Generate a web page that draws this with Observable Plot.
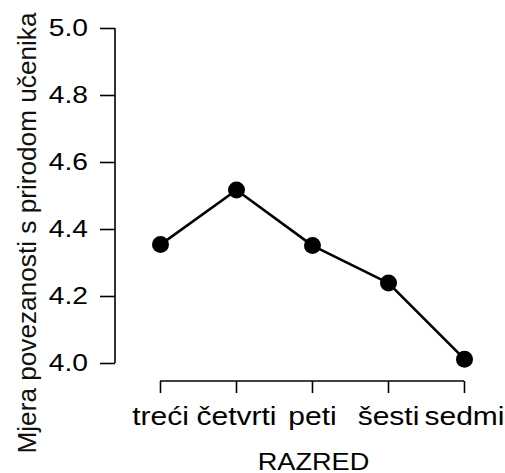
<!DOCTYPE html>
<html><head><meta charset="utf-8">
<script src="https://cdn.jsdelivr.net/npm/d3@7"></script>
<script src="https://cdn.jsdelivr.net/npm/@observablehq/plot@0.6"></script>
<style>body{margin:0;background:#fff}</style>
</head><body><div id="chart"></div>
<script>
const grades = ["treći", "četvrti", "peti", "šesti", "sedmi"];
const values = [4.355, 4.518, 4.352, 4.240, 4.013];
const yTicks = [4.0, 4.2, 4.4, 4.6, 4.8, 5.0];
const xLabel = "RAZRED";
const yLabel = "Mjera povezanosti s prirodom učenika";
const data = grades.map((g, i) => ({grade: g, value: values[i]}));

const W = 505, H = 473, ML = 115, MR = 9, MT = 28, MB = 92;
const Y_TICK = 15, Y_PAD = 12;

function axisLines(index, scales, vals, dims) {
  const ns = "http://www.w3.org/2000/svg";
  const g = document.createElementNS(ns, "g");
  g.setAttribute("stroke", "black");
  g.setAttribute("stroke-width", "1.6");
  g.setAttribute("fill", "none");
  const x0 = scales.x(grades[0]), x1 = scales.x(grades[grades.length - 1]);
  const yb = dims.height - dims.marginBottom;
  const l1 = document.createElementNS(ns, "line");
  l1.setAttribute("x1", x0); l1.setAttribute("x2", x1);
  l1.setAttribute("y1", yb); l1.setAttribute("y2", yb);
  const xl = dims.marginLeft;
  const l2 = document.createElementNS(ns, "line");
  l2.setAttribute("x1", xl); l2.setAttribute("x2", xl);
  l2.setAttribute("y1", scales.y(yTicks[0])); l2.setAttribute("y2", scales.y(yTicks[yTicks.length - 1]));
  g.append(l1, l2);
  return g;
}

const frameCenter = (ML + (W - MR)) / 2;

const chart = Plot.plot({
  width: W, height: H,
  marginLeft: ML, marginRight: MR, marginTop: MT, marginBottom: MB,
  style: {fontSize: "25px", fontFamily: "'Liberation Sans', Arial, sans-serif", color: "black", background: "white", overflow: "visible"},
  x: {type: "point", domain: grades, range: [160, 464], padding: 0},
  y: {domain: [4, 5], range: [363, 28]},
  marks: [
    Plot.axisY({ticks: yTicks, tickSize: Y_TICK, tickPadding: Y_PAD, tickFormat: d3.format(".1f"), label: null, strokeWidth: 1.6, fontSize: 23.5, fill: "black"}),
    Plot.axisX({tickSize: 12, tickPadding: 14, label: null, strokeWidth: 1.6, fontSize: 25, fill: "black"}),
    axisLines,
    Plot.line(data, {x: "grade", y: "value", stroke: "black", strokeWidth: 2.6}),
    Plot.dot(data, {x: "grade", y: "value", r: 8.5, fill: "black", stroke: "none"}),
    Plot.text([xLabel], {frameAnchor: "bottom", lineAnchor: "bottom", dx: 313 - frameCenter, dy: 88, fontSize: 24.7, fill: "black"}),
    Plot.text([yLabel], {frameAnchor: "left", textAnchor: "middle", rotate: -90, lineAnchor: "bottom", dx: -80, dy: 232.5 - (MT + (H - MB)) / 2, fontSize: 26.2, fill: "#111"})
  ]
});
document.getElementById("chart").append(chart);

// the reference's horizontal texts are drawn wider than the font's natural width:
// widen them while keeping their anchor point (end / middle) in place
function widen(t, f) {
  const bb = t.getBBox();
  const anchor = t.getAttribute("text-anchor") || getComputedStyle(t).textAnchor || "start";
  const w = bb.width * f;
  let left = bb.x;
  if (anchor === "end") left = bb.x + bb.width - w;
  else if (anchor === "middle") left = bb.x + bb.width / 2 - w / 2;
  t.setAttribute("text-anchor", "start");
  t.style.textAnchor = "start";
  t.setAttribute("x", left.toFixed(2));
  t.setAttribute("textLength", w.toFixed(2));
  t.setAttribute("lengthAdjust", "spacingAndGlyphs");
}
chart.querySelectorAll('g[aria-label="y-axis tick label"] text').forEach(t => widen(t, 1.2));
chart.querySelectorAll('g[aria-label="x-axis tick label"] text').forEach(t => widen(t, 1.2));
chart.querySelectorAll('text').forEach(t => { if (t.textContent === xLabel) widen(t, 1.1); });

// make sure the y tick labels end exactly tickPadding left of the tick marks
const svgLeft = chart.getBoundingClientRect().left;
const wantRight = ML - Y_TICK - Y_PAD;
chart.querySelectorAll('g[aria-label="y-axis tick label"] text').forEach(t => {
  const r = t.getBoundingClientRect();
  const shift = wantRight - (r.right - svgLeft);
  t.setAttribute("x", (parseFloat(t.getAttribute("x")) + shift).toFixed(2));
});
</script>
</body></html>
